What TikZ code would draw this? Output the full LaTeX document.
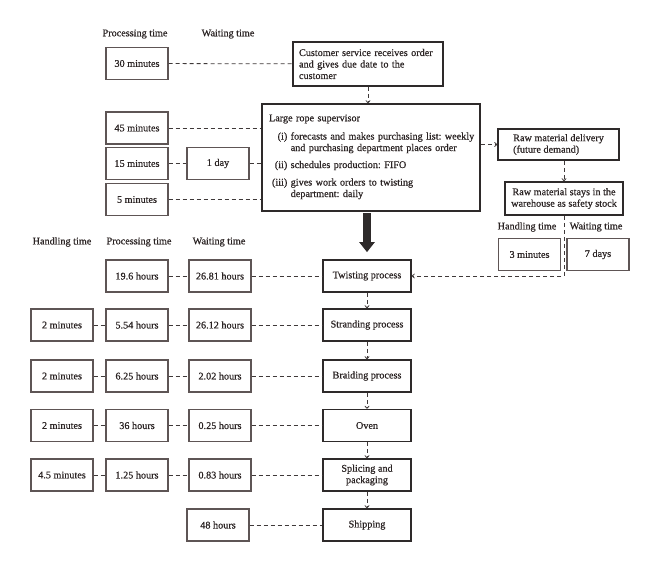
\documentclass[tikz,border=0pt]{standalone}
\usepackage{fontspec}
\setmainfont{Liberation Serif}[FakeBold=0.6]
\usetikzlibrary{arrows.meta}
\definecolor{txt}{HTML}{2B2424}
\definecolor{boxgray}{HTML}{5E5555}
\definecolor{procgray}{HTML}{2E2A2A}
\definecolor{linkgray}{HTML}{3F3939}
\frenchspacing
\begin{document}
\begin{tikzpicture}[x=1pt,y=-1pt,
    every node/.style={font=\fontsize{10.2}{11.5}\selectfont, text=txt},
    valbox/.style={draw=boxgray, line width=1.2pt, minimum width=62pt, minimum height=32pt, inner sep=2pt},
    procbox/.style={draw=procgray, line width=1.7pt, minimum width=88pt, minimum height=32pt, inner sep=2pt, align=center},
    link/.style={draw=linkgray, line width=0.8pt, dash pattern=on 4pt off 3pt},
    flow/.style={link, -{To[length=3pt,width=5pt]}}]
    \useasboundingbox (0,0) rectangle (660,572);
    % order handling
    \node (hproc) at (135,34) {Processing time};
    \node (hwait) at (228,34) {Waiting time};
    \node[valbox] (t30) at (137,63.5) {30 minutes};
    \node[procbox, minimum width=150pt, minimum height=44pt, text width=138pt, inner xsep=6pt, align=left] (cust) at (368,64)
        {Customer service receives order\\and gives due date to the\\customer};
    \node[procbox, minimum width=218pt, minimum height=107pt, text width=204pt, inner xsep=7pt, align=left] (sup) at (371,157.5)
        {Large rope supervisor\\[7pt]
        \hspace*{3pt}\begin{tabular}{@{}r@{\ }l@{}}
        (i) & forecasts and makes purchasing list: weekly\\
            & and purchasing department places order\\[5.5pt]
        (ii) & schedules production: FIFO\\[6pt]
        (iii) & gives work orders to twisting\\
            & department: daily
        \end{tabular}};
    \node[valbox] (t45) at (137,128) {45 minutes};
    \node[valbox] (t15) at (137,163.5) {15 minutes};
    \node[valbox] (d1) at (218,163.5) {1 day};
    \node[valbox] (t5) at (137,199.5) {5 minutes};
    \draw[link] (t30) -- (cust);
    \draw[link] (t45) -- (t45 -| sup.west);
    \draw[link] (t15) -- (d1);
    \draw[link] (d1) -- (d1 -| sup.west);
    \draw[link] (t5) -- (t5 -| sup.west);
    \draw[flow] (cust.south) -- (cust.south |- sup.north);
    % raw material
    \node[procbox, minimum width=121pt, minimum height=31pt, align=left] (deliv) at (558.5,144.5)
        {Raw material delivery\\(future demand)};
    \node[procbox, minimum width=118pt, minimum height=33pt] (stock) at (564,198.5)
        {Raw material stays in the\\warehouse as safety stock};
    \node (hhand2) at (527,227) {Handling time};
    \node (hwait2) at (596,227) {Waiting time};
    \node[valbox] (t3) at (529.5,254.5) {3 minutes};
    \node[valbox] (d7) at (598,254.5) {7 days};
    \draw[flow] (sup.east |- deliv.west) -- (deliv.west);
    \draw[flow] (stock.north |- deliv.south) -- (stock.north);
    % production
    \node (hhand) at (62,242) {Handling time};
    \node (hproc3) at (139,242) {Processing time};
    \node (hwait3) at (219,242) {Waiting time};
    \node[procbox] (twist) at (367,276) {Twisting process};
    \node[procbox] (strand) at (367,325) {Stranding process};
    \node[procbox] (braid) at (367,376) {Braiding process};
    \node[procbox] (oven) at (367,425.5) {Oven};
    \node[procbox] (splice) at (367,475) {Splicing and\\packaging};
    \node[procbox] (ship) at (367,525) {Shipping};
    \draw[line width=8pt, draw=procgray, shorten <=1pt, shorten >=7pt, -{Triangle[length=10pt,width=15pt]}] (sup.south -| twist.north) -- (twist.north);
    \draw[flow] (stock.south) |- (twist.east);
    \draw[flow] (twist) -- (strand);
    \draw[flow] (strand) -- (braid);
    \draw[flow] (braid) -- (oven);
    \draw[flow] (oven) -- (splice);
    \draw[flow] (splice) -- (ship);
    % times per step
    \node[valbox] (ptwist) at (137,276) {19.6 hours};
    \node[valbox] (wtwist) at (220,276) {26.81 hours};
    \node[valbox] (hstrand) at (62,325) {2 minutes};
    \node[valbox] (pstrand) at (137,325) {5.54 hours};
    \node[valbox] (wstrand) at (220,325) {26.12 hours};
    \node[valbox] (hbraid) at (62,376) {2 minutes};
    \node[valbox] (pbraid) at (137,376) {6.25 hours};
    \node[valbox] (wbraid) at (220,376) {2.02 hours};
    \node[valbox] (hoven) at (62,425.5) {2 minutes};
    \node[valbox] (poven) at (137,425.5) {36 hours};
    \node[valbox] (woven) at (220,425.5) {0.25 hours};
    \node[valbox] (hsplice) at (62,475) {4.5 minutes};
    \node[valbox] (psplice) at (137,475) {1.25 hours};
    \node[valbox] (wsplice) at (220,475) {0.83 hours};
    \node[valbox] (wship) at (218,525) {48 hours};
    \draw[link] (ptwist) -- (wtwist);
    \draw[link] (wtwist) -- (twist);
    \draw[link] (hstrand) -- (pstrand);
    \draw[link] (pstrand) -- (wstrand);
    \draw[link] (wstrand) -- (strand);
    \draw[link] (hbraid) -- (pbraid);
    \draw[link] (pbraid) -- (wbraid);
    \draw[link] (wbraid) -- (braid);
    \draw[link] (hoven) -- (poven);
    \draw[link] (poven) -- (woven);
    \draw[link] (woven) -- (oven);
    \draw[link] (hsplice) -- (psplice);
    \draw[link] (psplice) -- (wsplice);
    \draw[link] (wsplice) -- (splice);
    \draw[link] (wship) -- (ship);
\end{tikzpicture}
\end{document}
